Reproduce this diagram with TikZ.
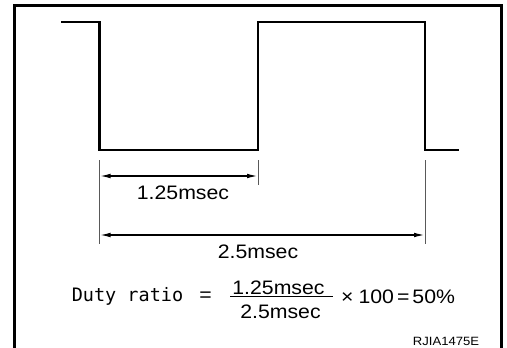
\documentclass[tikz,border=0pt]{standalone}
\usepackage{fontspec}
\setmainfont{Liberation Sans}
\newfontfamily\textelarge[FakeStretch=1.09]{Liberation Sans}
\newfontfamily\textemono{DejaVu Sans Mono}
\usetikzlibrary{calc,arrows.meta}

\begin{document}
\begin{tikzpicture}[x=1pt,y=-1pt]
        \tikzstyle{signal} = [line width=2.2pt, line join=miter]
        \tikzstyle{cadre} = [line width=3pt]
        \tikzstyle{rappel} = [line width=0.9pt, black!65]
        \tikzstyle{cote} = [line width=1.5pt, {Latex[length=11pt,width=4.6pt]}-{Latex[length=11pt,width=4.6pt]}]
        \tikzstyle{etiquette} = [inner sep=0pt, font=\textelarge\fontsize{19.5}{22}\selectfont]
        \tikzstyle{formule} = [inner sep=0pt, font=\textemono\fontsize{18.5}{21}\selectfont]
        \useasboundingbox (0,0) rectangle (507,348);
        \draw[cadre] (14,348) |- (501,5.5) -- (501,348);
        \coordinate (debut) at (61,22);
        \coordinate (chute) at (99.5,150);
        \coordinate (montee) at (258,150);
        \coordinate (haut) at (258,22);
        \coordinate (haut_fin) at (425,22);
        \coordinate (fin) at (459,150);
        \draw[signal] (debut) -| (chute) -- (montee) -- (haut) -- (haut_fin) |- (fin);
        \draw[rappel] ($(chute)+(0,10)$) -- ($(chute)+(0,94)$);
        \draw[rappel] ($(montee)+(0,10)$) -- ($(montee)+(0,35)$);
        \draw[rappel] ($(haut_fin)+(0,138)$) -- ($(haut_fin)+(0,222)$);
        \draw[cote] ($(chute)+(0,26)$) -- ($(montee)+(0,26)$);
        \draw[cote] ($(chute)+(0,85)$) -- ($(haut_fin)+(0,213)$);
        \node (court) [etiquette] at (183,193) {1.25msec};
        \node (long) [etiquette] at (258,251.5) {2.5msec};
        \node (duty) [formule] at (127.5,296.5) {Duty ratio};
        \node (egal) [etiquette] at (205.5,296.5) {=};
        \node (numerateur) [etiquette] at (278.5,287.5) {1.25msec};
        \node (denominateur) [etiquette, below of=numerateur, node distance=24pt, xshift=2pt] {2.5msec};
        \draw[line width=1.2pt] (230,296.5) -- (333,296.5);
        \node (resultat) [etiquette, anchor=west] at (341,297) {×\hspace{5pt}100\hspace{3pt}=\hspace{3pt}50\%};
        \node (reference) [inner sep=0pt, font=\textelarge\fontsize{12}{14}\selectfont] at (446,341) {RJIA1475E};
\end{tikzpicture}
\end{document}
